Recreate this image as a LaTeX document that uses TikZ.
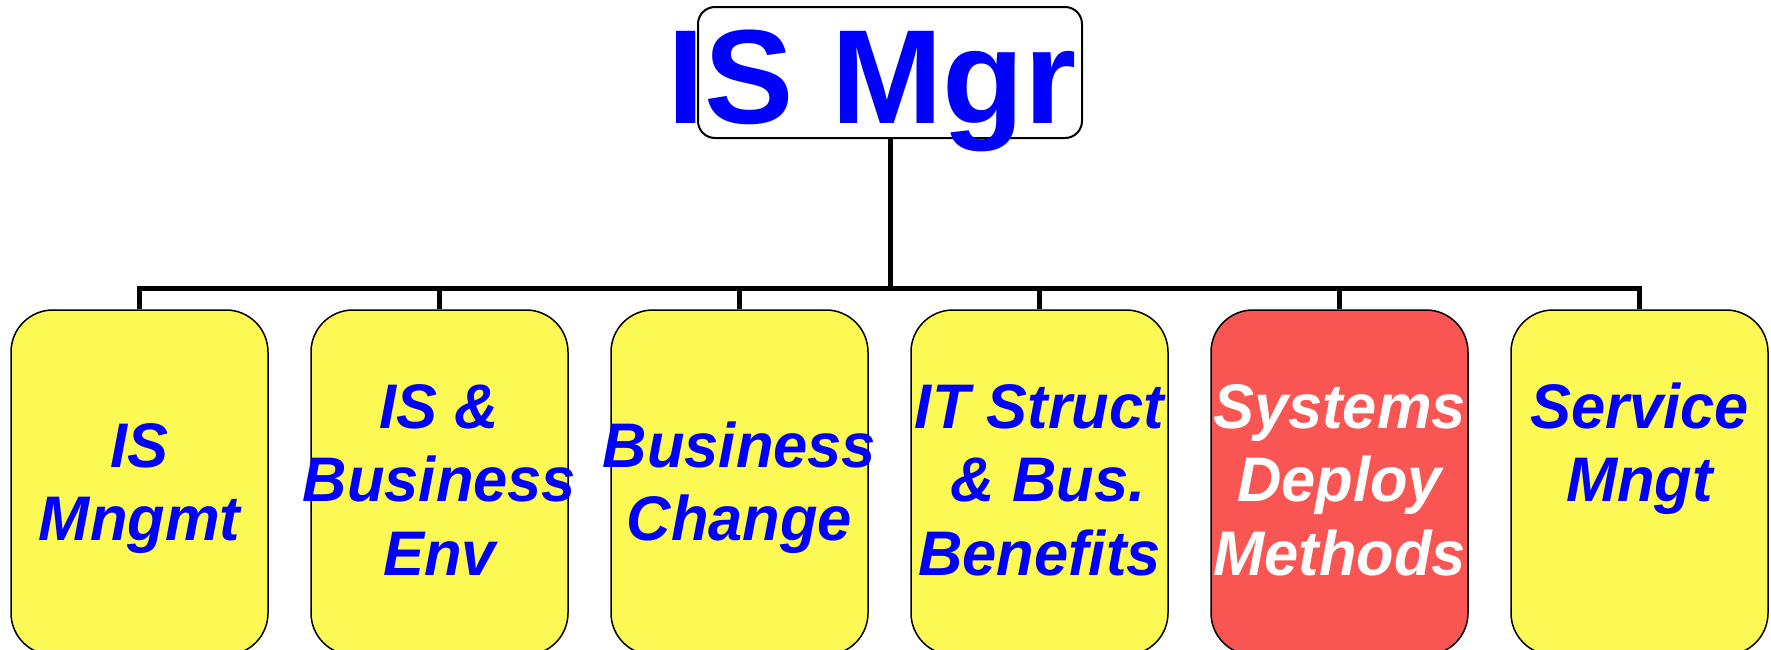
\documentclass[tikz,border=0pt]{standalone}
\usepackage{fontspec}
\setmainfont{Liberation Sans}
\newfontfamily\boxfont[FakeStretch=0.975]{Liberation Sans}
\definecolor{boxyellow}{RGB}{252,249,84}
\definecolor{boxred}{RGB}{249,85,82}
\definecolor{txtblue}{RGB}{0,0,255}
\newcommand{\mybtxt}[1]{\parbox[t]{300pt}{\centering\boxfont\fontsize{63}{73.5}\selectfont\bfseries\itshape #1}}
\tikzset{
  cbox/.style={draw=black, line width=1.5pt, rounded corners=42pt, minimum width=257pt, minimum height=345pt, inner sep=0pt, fill=boxyellow},
  redbox/.style={cbox, fill=boxred},
  btext/.style={anchor=base, inner sep=0pt, text=txtblue},
  wtext/.style={btext, text=white},
  conn/.style={draw=black, line width=5pt, line join=miter},
}
\begin{document}
\begin{tikzpicture}[x=1pt,y=1pt]
\useasboundingbox (0,0) rectangle (1771,-649);
\clip (0,0) rectangle (1771,-649);
% top box
\node[draw=black, line width=2pt, rounded corners=17pt, minimum width=384pt, minimum height=131pt, inner sep=0pt, fill=white] (top) at (890,-72.5) {};
\node[anchor=base, inner sep=0pt, text=txtblue, font=\fontsize{134}{134}\selectfont\bfseries] (toptxt) at (872,-123) {IS Mgr};
% boxes
\node[cbox] (b1) at (139.5,-482.5) {};
\node[cbox] (b2) at (439.5,-482.5) {};
\node[cbox] (b3) at (739.5,-482.5) {};
\node[cbox] (b4) at (1039.5,-482.5) {};
\node[redbox] (b5) at (1339.5,-482.5) {};
\node[cbox] (b6) at (1639.5,-482.5) {};
% texts
\node[btext] (t1) at (139.5,-467) {\mybtxt{IS\\Mngmt}};
\node[btext] (t2) at (439.5,-428) {\mybtxt{IS \&\\Business\\Env}};
\node[btext] (t3) at (739.5,-467) {\mybtxt{Business\\Change}};
\node[btext] (t4) at (1039.5,-428) {\mybtxt{IT Struct\\~\& Bus.\\Benefits}};
\node[wtext] (t5) at (1339.5,-428) {\mybtxt{Systems\\Deploy\\Methods}};
\node[btext] (t6) at (1639.5,-428) {\mybtxt{Service\\Mngt}};
% connectors
\coordinate (bus) at (890,-288);
\draw[conn] (top.south) -- (bus);
\draw[conn] (b1.north) -- (b1.north |- bus) -- (b6.north |- bus) -- (b6.north);
\draw[conn] (b2.north) -- (b2.north |- bus);
\draw[conn] (b3.north) -- (b3.north |- bus);
\draw[conn] (b4.north) -- (b4.north |- bus);
\draw[conn] (b5.north) -- (b5.north |- bus);
\end{tikzpicture}
\end{document}
